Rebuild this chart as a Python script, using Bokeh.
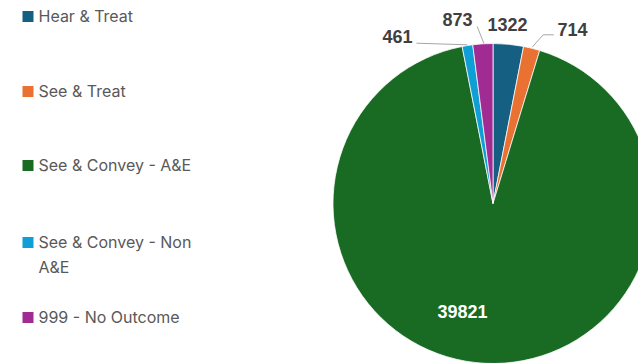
import math
from bokeh.plotting import figure
from bokeh.models import Range1d, ColumnDataSource
from bokeh.core.properties import value
from bokeh.embed import file_html
from bokeh.resources import INLINE

# ---- data ----
categories = ["Hear & Treat", "See & Treat", "See & Convey - A&E", "See & Convey - Non A&E", "999 - No Outcome"]
counts = [1322, 714, 39821, 461, 873]
colors = ["#156082", "#E97132", "#196B24", "#0F9ED5", "#A02B93"]

# ---- layout constants (pixels, y measured from top) ----
W, H = 638, 363
cx, cy, R = 493, 203, 160
label_pos = [(507, 24), (572, 29), (462, 311), (397, 36), (457, 19)]
label_colors = ["#404040", "#404040", "#FFFFFF", "#404040", "#404040"]
legend_rows = [[15], [90], [164], [241, 266], [316]]
legend_lines = [["Hear & Treat"], ["See & Treat"], ["See & Convey - A&E"], ["See & Convey - Non", "A&E"], ["999 - No Outcome"]]
leaders = [
    ([531.7, 542.7, 553.3], [46.7, 34.3, 34.3]),
    ([416, 466.7], [42.7, 44.3]),
    ([476.7, 483.3], [26, 42.7]),
]

def Y(y):
    return H - y

p = figure(width=W, height=H, output_backend="svg", toolbar_location=None,
           x_range=Range1d(0, W), y_range=Range1d(0, H), min_border=0)
p.axis.visible = False
p.grid.visible = False
p.outline_line_color = None
p.background_fill_color = "white"
p.border_fill_color = "white"

total = sum(counts)
starts, ends = [], []
cum = 0
for c in counts:
    starts.append(math.pi / 2 - 2 * math.pi * cum / total)
    cum += c
    ends.append(math.pi / 2 - 2 * math.pi * cum / total)

src = ColumnDataSource(dict(start=starts, end=ends, color=colors, cat=categories, val=counts))
p.wedge(x=cx - 0.5, y=Y(cy), radius=R, start_angle="start", end_angle="end", direction="clock",
        fill_color="color", line_color="white", line_width=0.75, source=src)

# leader lines
for xs, ys in leaders:
    p.line(xs, [Y(v) for v in ys], line_color="#A6A6A6", line_width=1)

# data labels
lsrc = ColumnDataSource(dict(x=[q[0] for q in label_pos], y=[Y(q[1]) for q in label_pos],
                             t=[str(v) for v in counts], c=label_colors))
p.text(x="x", y="y", text="t", text_color="c", text_font=value("Liberation Sans"),
       text_font_style="bold", text_font_size="18px", text_align="center",
       text_baseline="middle", source=lsrc)

# legend
for col, rows, lines in zip(colors, legend_rows, legend_lines):
    p.rect(x=27.5, y=Y(rows[0] + 1), width=11, height=11, fill_color=col, line_color=None)
    p.text(x=[38] * len(lines), y=[Y(r) for r in rows], text=lines, text_color="#595959",
           text_font=value("Inter"), text_font_size="16px", text_align="left",
           text_baseline="middle")

open("out.html", "w").write(file_html(p, INLINE))
